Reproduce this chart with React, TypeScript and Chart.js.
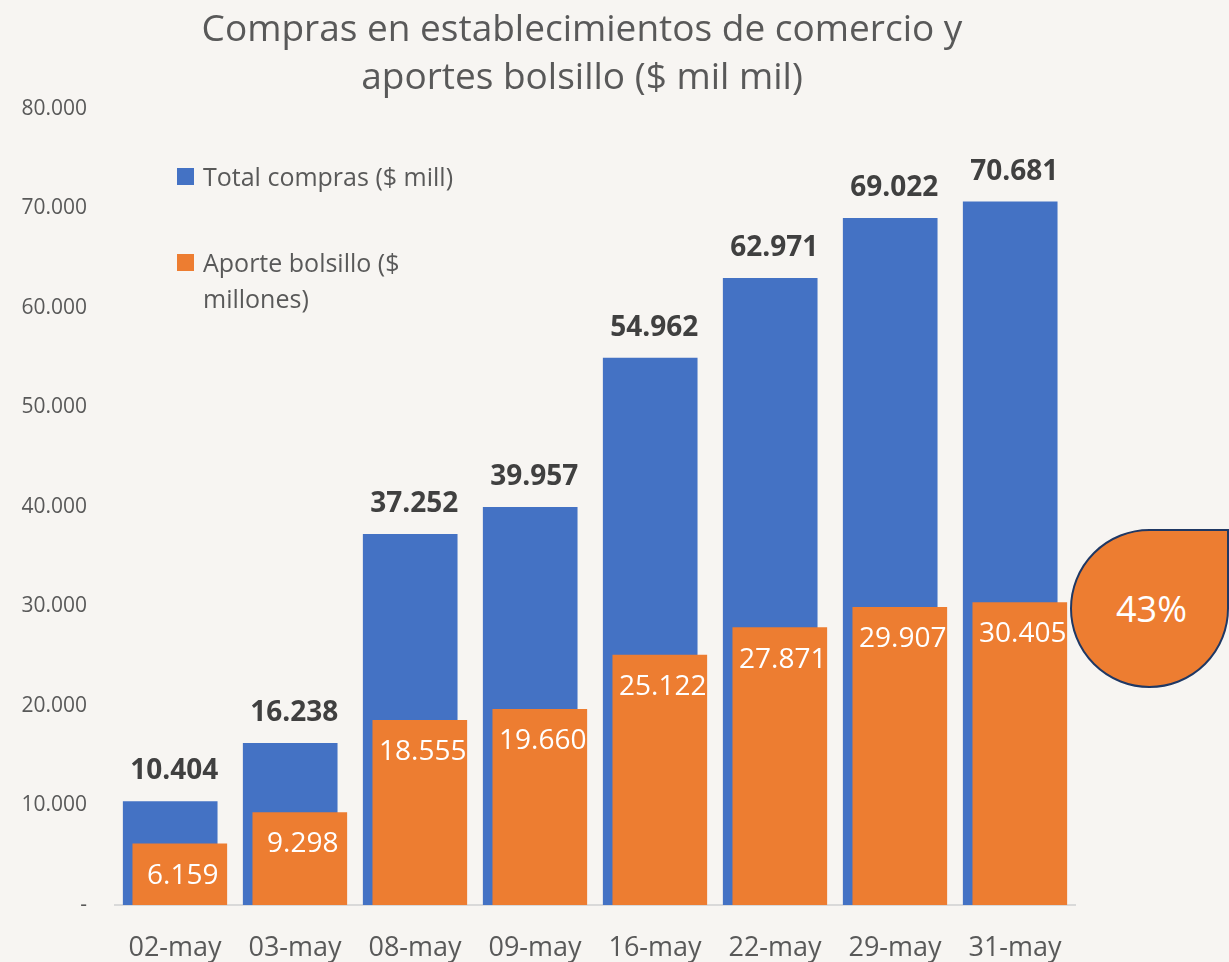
import React, { useEffect, useRef } from 'react';
import { Chart, registerables } from 'chart.js';

Chart.register(...registerables);

const categories = ['02-may', '03-may', '08-may', '09-may', '16-may', '22-may', '29-may', '31-may'];
const totalCompras = [10404, 16238, 37252, 39957, 54962, 62971, 69022, 70681];
const aporteBolsillo = [6159, 9298, 18555, 19660, 25122, 27871, 29907, 30405];
const seriesLabels = ['Total compras ($ mill)', 'Aporte bolsillo ($ millones)'];
const titleLines = ['Compras en establecimientos de comercio y', 'aportes bolsillo ($ mil mil)'];
const highlightText = '43%';
const yMin = 0;
const yMax = 80000;
const yStep = 10000;

const BLUE = '#4472C4';
const ORANGE = '#ED7D31';
const GRAY = '#595959';
const BG = '#f7f5f2';
const FONT = "'Open Sans', sans-serif";
const SHIFT = 0.04;

const fmt = (n: number) => String(Math.round(n)).replace(/\B(?=(\d{3})+(?!\d))/g, '.');

const valueLabels = {
  id: 'valueLabels',
  afterDatasetsDraw(chart: any) {
    const ctx = chart.ctx;
    ctx.save();
    ctx.textAlign = 'center';
    ctx.textBaseline = 'middle';
    chart.data.datasets.forEach((ds: any, di: number) => {
      const meta = chart.getDatasetMeta(di);
      meta.data.forEach((bar: any, i: number) => {
        const v = ds.data[i].y;
        if (di === 0) {
          ctx.font = `bold 28px ${FONT}`;
          ctx.fillStyle = '#404040';
          ctx.fillText(fmt(v), bar.x + 4, bar.y - 30);
        } else {
          ctx.font = `28px ${FONT}`;
          ctx.fillStyle = '#ffffff';
          ctx.fillText(fmt(v), bar.x + 3, bar.y + 32);
        }
      });
    });
    ctx.restore();
  },
};

export default function App() {
  const ref = useRef<HTMLCanvasElement>(null);

  useEffect(() => {
    document.body.style.margin = '0';
    document.body.style.background = BG;
    const chart = new Chart(ref.current!, {
      type: 'bar',
      data: {
        datasets: [
          {
            label: seriesLabels[0],
            data: totalCompras.map((y, i) => ({ x: i - SHIFT, y })),
            backgroundColor: BLUE,
            barThickness: 94,
            grouped: false,
            order: 1,
          },
          {
            label: seriesLabels[1],
            data: aporteBolsillo.map((y, i) => ({ x: i + SHIFT, y })),
            backgroundColor: ORANGE,
            barThickness: 94,
            grouped: false,
            order: 0,
          },
        ],
      } as any,
      options: {
        responsive: false,
        animation: false,
        layout: { padding: { left: 0, right: 154, top: 109, bottom: 0 } },
        plugins: {
          legend: { display: false },
          title: { display: false },
          tooltip: { enabled: false },
        },
        scales: {
          x: {
            type: 'linear',
            offset: false,
            min: -0.5,
            max: categories.length - 0.5,
            afterBuildTicks: (scale: any) => {
              scale.ticks = categories.map((_, i) => ({ value: i }));
            },
            afterFit: (scale: any) => {
              scale.height = 57;
            },
            ticks: {
              autoSkip: false,
              maxRotation: 0,
              padding: 27,
              color: GRAY,
              font: { family: FONT, size: 27 },
              callback: (v: any) => categories[Math.round(Number(v))] ?? '',
            },
            grid: { display: false, drawTicks: false, offset: false },
            border: { display: true, color: '#d9d9d9', width: 2 },
          },
          y: {
            min: yMin,
            max: yMax,
            afterFit: (scale: any) => {
              scale.width = 115;
            },
            ticks: {
              stepSize: yStep,
              padding: 28,
              color: GRAY,
              font: { family: FONT, size: 21 },
              callback: (v: any) => (Number(v) === 0 ? '-' : fmt(Number(v))),
            },
            grid: { display: false, drawTicks: false },
            border: { display: false },
          },
        },
      } as any,
      plugins: [valueLabels],
    });
    return () => chart.destroy();
  }, []);

  return (
    <div style={{ position: 'relative', width: 1229, height: 962, background: BG, overflow: 'hidden', fontFamily: FONT }}>
      <canvas ref={ref} width={1229} height={962} style={{ position: 'absolute', left: 0, top: 0 }} />
      <div
        style={{
          position: 'absolute',
          left: 0,
          width: 1164,
          top: 3,
          textAlign: 'center',
          color: GRAY,
          fontSize: 37,
          lineHeight: '48px',
        }}
      >
        {titleLines.map((t, i) => (
          <div key={i}>{t}</div>
        ))}
      </div>
      <div style={{ position: 'absolute', left: 177, top: 158, color: GRAY, fontSize: 25, lineHeight: '36px' }}>
        <div style={{ display: 'flex', alignItems: 'flex-start' }}>
          <span style={{ width: 17, height: 17, background: BLUE, marginTop: 10, marginRight: 9, flex: 'none' }} />
          <span style={{ whiteSpace: 'nowrap' }}>{seriesLabels[0]}</span>
        </div>
        <div style={{ display: 'flex', alignItems: 'flex-start', marginTop: 50 }}>
          <span style={{ width: 17, height: 17, background: ORANGE, marginTop: 10, marginRight: 9, flex: 'none' }} />
          <span style={{ width: 230 }}>{seriesLabels[1]}</span>
        </div>
      </div>
      <div
        style={{
          position: 'absolute',
          left: 1070,
          top: 529,
          width: 159,
          height: 159,
          boxSizing: 'border-box',
          background: ORANGE,
          border: '2px solid #1f3864',
          borderRadius: '50% 0 50% 50%',
          display: 'flex',
          alignItems: 'center',
          justifyContent: 'center',
          color: '#ffffff',
          fontSize: 36,
          paddingLeft: 4,
        }}
      >
        {highlightText}
      </div>
    </div>
  );
}
